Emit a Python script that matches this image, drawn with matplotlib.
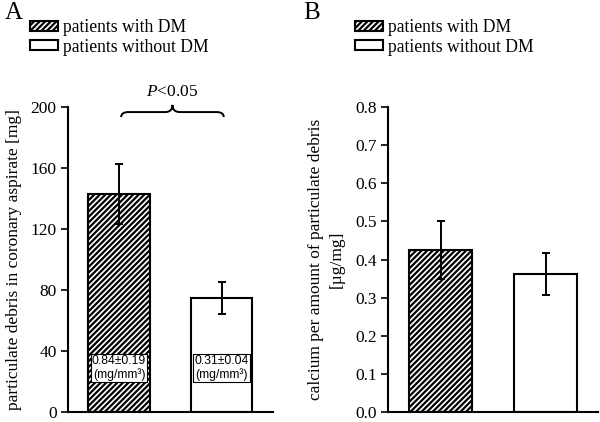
import matplotlib.pyplot as plt
import matplotlib.patches as mpatches
from matplotlib.path import Path
import numpy as np

plt.rcParams['font.family'] = ['Liberation Serif', 'DejaVu Serif']
plt.rcParams['hatch.linewidth'] = 1.6
plt.rcParams['mathtext.fontset'] = 'custom'
plt.rcParams['mathtext.rm'] = 'Liberation Serif'
plt.rcParams['mathtext.it'] = 'Liberation Serif:italic'

groups = ['patients with DM', 'patients without DM']
debris_mean = [143, 74.5]
debris_err = [20, 10.5]
debris_density = ['0.84\u00b10.19\n(mg/mm\u00b3)', '0.31\u00b10.04\n(mg/mm\u00b3)']
calcium_mean = [0.424, 0.362]
calcium_err = [0.076, 0.055]
hatches = ['//////', '']

fig = plt.figure(figsize=(6, 4.22), dpi=100)
axA = fig.add_axes([0.113, 0.024, 0.342, 0.722])
axB = fig.add_axes([0.647, 0.024, 0.35, 0.722])

x = np.arange(len(groups))


def draw_bars(ax, means, errs):
    for i in range(len(means)):
        ax.bar(x[i], means[i], width=0.6, color='white', edgecolor='black',
               hatch=hatches[i], linewidth=1.5, label=groups[i])
        ax.errorbar(x[i], means[i], yerr=errs[i], color='black', capsize=3,
                    elinewidth=1.4, capthick=1.4)
    ax.set_xlim(-0.5, 1.5)
    ax.set_xticks([])
    ax.spines['top'].set_visible(False)
    ax.spines['right'].set_visible(False)
    ax.spines['left'].set_linewidth(1.5)
    ax.spines['bottom'].set_linewidth(1.5)
    ax.tick_params(axis='y', direction='out', length=5, width=1.2, labelsize=12.5, pad=3)


draw_bars(axA, debris_mean, debris_err)
axA.set_ylim(0, 200)
axA.set_yticks(np.arange(0, 201, 40))
axA.set_ylabel('particulate debris in coronary aspirate [mg]', fontsize=12.5, labelpad=6)
for i in range(2):
    axA.text(x[i], 29, debris_density[i], ha='center', va='center', fontsize=8.7,
             family='Liberation Sans', linespacing=1.1,
             bbox=dict(boxstyle='square,pad=0.1', fc='white', ec='black', lw=0.8))

# significance brace
x0, x1, xm = 0.02, 1.02, 0.52
yb, yf, yt = 193.5, 196.8, 201.5
dx = 0.07
verts = [(x0, yb), (x0, yf), (x0 + dx, yf), (xm - dx, yf), (xm, yf), (xm, yt),
         (xm, yf), (xm + dx, yf), (x1 - dx, yf), (x1, yf), (x1, yb)]
codes = [Path.MOVETO, Path.CURVE3, Path.CURVE3, Path.LINETO, Path.CURVE3, Path.CURVE3,
         Path.CURVE3, Path.CURVE3, Path.LINETO, Path.CURVE3, Path.CURVE3]
axA.add_patch(mpatches.PathPatch(Path(verts, codes), fc='none', ec='black', lw=1.4,
                                 clip_on=False))
axA.text(xm, 205, '$\\mathit{P}$<0.05', ha='center', va='bottom', fontsize=12.5)

draw_bars(axB, calcium_mean, calcium_err)
axB.set_ylim(0, 0.8)
axB.set_yticks(np.arange(0, 0.81, 0.1))
axB.yaxis.set_major_formatter(plt.FormatStrFormatter('%.1f'))
axB.set_ylabel('calcium per amount of particulate debris\n[\u00b5g/mg]', fontsize=12.5,
               labelpad=8, linespacing=1.35)

handles = [mpatches.Patch(fc='white', ec='black', hatch=hatches[i], lw=1.5)
           for i in range(2)]
for bx in (0.05, 0.592):
    fig.legend(handles, groups, loc='upper left', bbox_to_anchor=(bx, 0.955),
               frameon=False, fontsize=12.7, handlelength=1.6, handleheight=0.5,
               handletextpad=0.25, labelspacing=0.15, borderaxespad=0, borderpad=0)

fig.text(0.008, 0.995, 'A', fontsize=18, va='top', ha='left')
fig.text(0.505, 0.995, 'B', fontsize=18, va='top', ha='left')

fig.savefig('out.png', dpi=100)
